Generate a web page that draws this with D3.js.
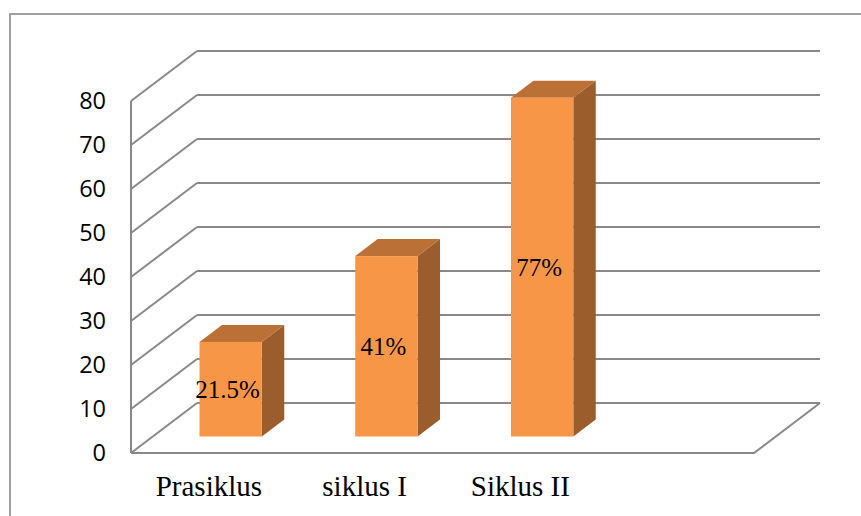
<!DOCTYPE html>
<html>
<head>
<meta charset="utf-8">
<script src="https://cdn.jsdelivr.net/npm/d3@7"></script>
<style>
  body { margin: 0; background: #fff; }
  .tick-label { font-family: "Open Sans", sans-serif; font-size: 23.5px; fill: #000; }
  .cat-label { font-family: "Liberation Serif", "Times New Roman", serif; font-size: 29px; fill: #000; }
  .val-label { font-family: "Liberation Serif", "Times New Roman", serif; font-size: 25px; fill: #000; }
</style>
</head>
<body>
<div class="chart_div"></div>
<script>
var categories = ["Prasiklus", "siklus I", "Siklus II", ""];
var values = [21.5, 41, 77];
var valueLabels = ["21.5%", "41%", "77%"];
var ticks = [0, 10, 20, 30, 40, 50, 60, 70, 80];

var width = 861, height = 516;
// depth of the 3d box (back wall offset) and where the bars sit in it
var depthX = 66, depthY = -50;
var barFront = 0.33, barBack = 0.67;

var svg = d3.select(".chart_div").append("svg")
            .attr("width", width)
            .attr("height", height);

// chart border
svg.append("rect")
   .attr("x", 10)
   .attr("y", 14)
   .attr("width", 880)
   .attr("height", 520)
   .attr("fill", "none")
   .attr("stroke", "#a0a0a0")
   .attr("stroke-width", 2);

var x = d3.scaleBand()
          .domain(d3.range(categories.length))
          .range([131, 754])
          .paddingInner(0.6)
          .paddingOuter(0.3);

var xLabel = d3.scaleBand()
               .domain(d3.range(categories.length))
               .range([131, 754]);

var y = d3.scaleLinear()
          .domain([0, 80])
          .range([453, 101]);

var grid = svg.append("g")
              .attr("stroke", "#898989")
              .attr("stroke-width", 2)
              .attr("fill", "none");

// back wall lines
grid.selectAll("line.back")
    .data(ticks)
    .enter()
    .append("line")
    .attr("class", "back")
    .attr("x1", 131 + depthX)
    .attr("x2", 754 + depthX)
    .attr("y1", function(d){ return y(d) + depthY; })
    .attr("y2", function(d){ return y(d) + depthY; });

// side wall diagonals
grid.selectAll("line.side")
    .data(ticks)
    .enter()
    .append("line")
    .attr("class", "side")
    .attr("x1", 131)
    .attr("x2", 131 + depthX)
    .attr("y1", function(d){ return y(d); })
    .attr("y2", function(d){ return y(d) + depthY; });

// vertical axis
grid.append("line")
    .attr("x1", 131).attr("x2", 131)
    .attr("y1", y(80)).attr("y2", y(0));

// floor front edge and right edge
grid.append("path")
    .attr("d", "M131," + y(0) + "L754," + y(0) + "L" + (754 + depthX) + "," + (y(0) + depthY));

// tick labels
svg.selectAll("text.tick-label")
   .data(ticks)
   .enter()
   .append("text")
   .attr("class", "tick-label")
   .attr("x", 106)
   .attr("y", function(d){ return y(d); })
   .attr("dy", "0.36em")
   .attr("text-anchor", "end")
   .text(function(d){ return d; });

// bars
var fx = depthX * barFront, fy = depthY * barFront;
var bx = depthX * (barBack - barFront), by = depthY * (barBack - barFront);

var bars = svg.selectAll("g.bar")
              .data(values)
              .enter()
              .append("g")
              .attr("class", "bar");

function pts(arr){
    return arr.map(function(p){ return p.join(","); }).join(" ");
}

bars.append("polygon")
    .attr("fill", "#9b5d2b")
    .attr("points", function(d,i){
        var x1 = x(i) + fx + x.bandwidth(), yt = y(d) + fy, yb = y(0) + fy;
        return pts([[x1, yt], [x1 + bx, yt + by], [x1 + bx, yb + by], [x1, yb]]);
    });

bars.append("polygon")
    .attr("fill", "#bb7036")
    .attr("points", function(d,i){
        var x0 = x(i) + fx, x1 = x0 + x.bandwidth(), yt = y(d) + fy;
        return pts([[x0, yt], [x1, yt], [x1 + bx, yt + by], [x0 + bx, yt + by]]);
    });

bars.append("rect")
    .attr("fill", "#f79646")
    .attr("x", function(d,i){ return x(i) + fx; })
    .attr("y", function(d){ return y(d) + fy; })
    .attr("width", x.bandwidth())
    .attr("height", function(d){ return y(0) - y(d); });

// value labels
svg.selectAll("text.val-label")
   .data(values)
   .enter()
   .append("text")
   .attr("class", "val-label")
   .attr("x", function(d,i){ return x(i) + fx + x.bandwidth() / 2 - 3; })
   .attr("y", function(d){ return (y(d) + y(0)) / 2 + fy; })
   .attr("dy", "0.35em")
   .attr("text-anchor", "middle")
   .text(function(d,i){ return valueLabels[i]; });

// category labels
svg.selectAll("text.cat-label")
   .data(categories)
   .enter()
   .append("text")
   .attr("class", "cat-label")
   .attr("x", function(d,i){ return xLabel(i) + xLabel.bandwidth() / 2; })
   .attr("y", 496)
   .attr("text-anchor", "middle")
   .text(function(d){ return d; });
</script>
</body>
</html>
